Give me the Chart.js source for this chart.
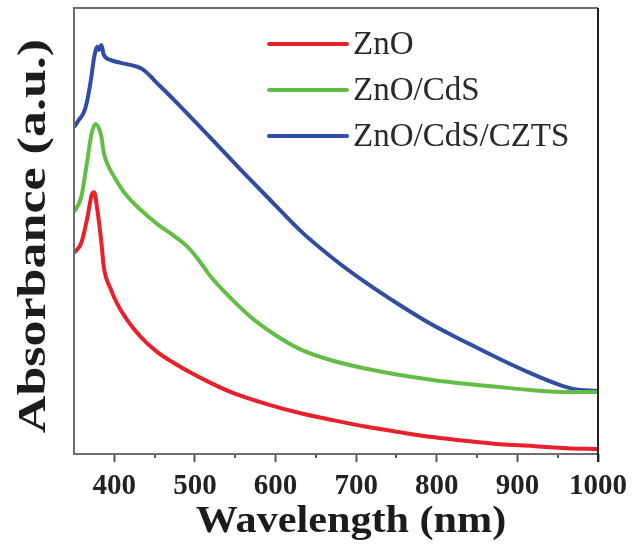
<!DOCTYPE html>
<html>
<head>
<meta charset="utf-8">
<script src="https://cdn.jsdelivr.net/npm/chart.js@4.4.1/dist/chart.umd.min.js"></script>
<style>
  html, body { margin: 0; padding: 0; background: #ffffff; }
  #wrap { width: 632px; height: 547px; }
</style>
</head>
<body>
<div id="wrap"><canvas id="c" width="632" height="547"></canvas></div>
<script>
// ---- Data (absorbance in arbitrary units) ----
const seriesLabels = ["ZnO", "ZnO/CdS", "ZnO/CdS/CZTS"];
const seriesColors = ["#e8202a", "#63bd45", "#2f4ea3"];

const znoWavelength = [350, 359, 366, 372, 375, 379, 384, 387, 396, 403, 416, 433, 453, 474, 495, 520, 547, 589, 630, 671, 713, 754, 795, 838, 878, 919, 962, 1000];
const znoAbsorbance = [45.1, 47.3, 52.5, 58.1, 58.7, 54.7, 47.3, 41.9, 36.8, 33.9, 30.0, 26.2, 22.9, 20.4, 18.2, 15.9, 13.7, 11.2, 9.2, 7.6, 6.1, 4.9, 3.8, 2.9, 2.2, 1.8, 1.3, 1.1];

const cdsWavelength = [350, 359, 366, 372, 377, 384, 387, 391, 400, 412, 433, 453, 474, 490, 503, 520, 547, 568, 589, 609, 630, 671, 713, 754, 795, 838, 878, 919, 962, 1000];
const cdsAbsorbance = [54.3, 57.6, 65.2, 72.0, 74.0, 71.1, 67.5, 65.2, 62.1, 58.7, 54.7, 51.6, 48.9, 46.6, 43.9, 39.7, 34.5, 30.9, 28.0, 25.6, 23.5, 20.9, 19.1, 17.7, 16.6, 15.7, 15.0, 14.3, 13.9, 13.9];

const cztsWavelength = [350, 356, 362, 366, 371, 375, 379, 381, 384, 387, 396, 408, 421, 433, 441, 449, 474, 515, 557, 598, 630, 671, 713, 754, 795, 838, 878, 919, 949, 969, 1000];
const cztsAbsorbance = [73.3, 74.9, 76.5, 78.9, 83.9, 89.0, 91.3, 90.6, 91.7, 89.5, 88.3, 87.7, 87.2, 86.5, 85.4, 83.9, 79.4, 71.7, 63.7, 56.1, 50.2, 43.9, 38.3, 33.4, 28.9, 24.9, 21.3, 17.9, 15.7, 14.6, 14.1];

const xMajorTicks = [400, 500, 600, 700, 800, 900, 1000];
const xMinorTicks = [450, 550, 650, 750, 850, 950];
const xTitle = "Wavelength (nm)";
const yTitle = "Absorbance (a.u.)";

// ---- Build datasets ----
function pairs(xs, ys) { return xs.map((x, i) => ({ x: x, y: ys[i] })); }
const allWl = [znoWavelength, cdsWavelength, cztsWavelength];
const allAbs = [znoAbsorbance, cdsAbsorbance, cztsAbsorbance];

const datasets = seriesLabels.map((lab, i) => ({
  label: lab,
  data: pairs(allWl[i], allAbs[i]),
  borderColor: seriesColors[i],
  backgroundColor: seriesColors[i],
  borderWidth: 4,
  pointRadius: 0,
  cubicInterpolationMode: 'monotone',
  fill: false
}));

const serif = "'Liberation Serif', 'Times New Roman', serif";

// Frame, minor ticks, axis titles and legend
const decor = {
  id: 'decor',
  afterDraw(chart) {
    const ctx = chart.ctx;
    const a = chart.chartArea;
    const xs = chart.scales.x;
    ctx.save();
    // minor ticks
    ctx.strokeStyle = '#555';
    ctx.lineWidth = 2;
    xMinorTicks.forEach(v => {
      const px = Math.round(xs.getPixelForValue(v));
      ctx.beginPath();
      ctx.moveTo(px, a.bottom);
      ctx.lineTo(px, a.bottom + 4);
      ctx.stroke();
    });
    // frame
    ctx.strokeStyle = '#6e6e6e';
    ctx.lineWidth = 2;
    ctx.beginPath();
    ctx.moveTo(a.right, a.top);
    ctx.lineTo(a.left, a.top);
    ctx.lineTo(a.left, a.bottom);
    ctx.lineTo(a.right, a.bottom);
    ctx.stroke();
    ctx.strokeStyle = '#222';
    ctx.beginPath();
    ctx.moveTo(a.right, a.top);
    ctx.lineTo(a.right, a.bottom + 8);
    ctx.stroke();

    // axis titles
    ctx.fillStyle = '#1c1c1c';
    ctx.font = "bold 38px " + serif;
    ctx.textAlign = 'center';
    ctx.textBaseline = 'alphabetic';
    ctx.save();
    ctx.translate(351, 532);
    ctx.scale(1.11, 1);
    ctx.fillText(xTitle, 0, 0);
    ctx.restore();

    ctx.font = "bold 40px " + serif;
    ctx.save();
    ctx.translate(45, 236);
    ctx.rotate(-Math.PI / 2);
    ctx.scale(1.3, 1);
    ctx.fillText(yTitle, 0, 0);
    ctx.restore();

    // legend
    chart.data.datasets.forEach((ds, i) => {
      const y = 44 + i * 46;
      ctx.strokeStyle = ds.borderColor;
      ctx.lineWidth = 4;
      ctx.lineCap = 'round';
      ctx.beginPath();
      ctx.moveTo(269, y);
      ctx.lineTo(347, y);
      ctx.stroke();
      ctx.fillStyle = '#2a2a2a';
      ctx.font = "33px " + serif;
      ctx.textAlign = 'left';
      ctx.textBaseline = 'middle';
      ctx.fillText(ds.label, 353, y + 1);
    });
    ctx.restore();
  }
};

new Chart(document.getElementById('c'), {
  type: 'line',
  data: { datasets: datasets },
  options: {
    responsive: false,
    animation: false,
    devicePixelRatio: 1,
    layout: { padding: { top: 8, right: 34, left: 0, bottom: 0 } },
    plugins: { legend: { display: false }, tooltip: { enabled: false } },
    scales: {
      x: {
        type: 'linear',
        min: 350,
        max: 1000,
        afterBuildTicks(scale) { scale.ticks = xMajorTicks.map(v => ({ value: v })); },
        afterFit(scale) { scale.height = 93; scale.paddingLeft = 0; scale.paddingRight = 0; },
        border: { display: false },
        grid: { display: true, drawOnChartArea: false, drawTicks: true, tickLength: 8, tickColor: '#555', tickWidth: 2 },
        ticks: {
          color: '#222',
          padding: 10,
          maxRotation: 0,
          autoSkip: false,
          callback: (v) => String(v),
          font: { family: serif, size: 29, weight: 'bold', lineHeight: 1 }
        },
        title: { display: false }
      },
      y: {
        type: 'linear',
        min: 0,
        max: 100,
        afterFit(scale) { scale.width = 74; },
        border: { display: false },
        grid: { display: false },
        ticks: { display: false },
        title: { display: false }
      }
    }
  },
  plugins: [decor]
});
</script>
</body>
</html>
